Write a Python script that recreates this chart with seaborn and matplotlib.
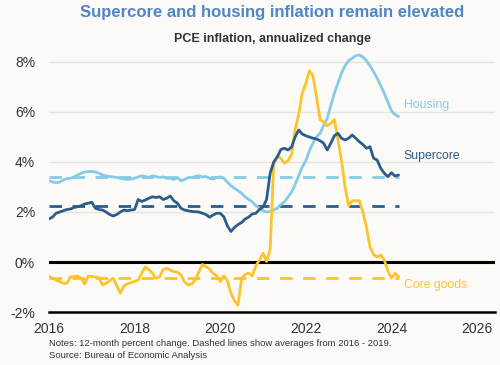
import numpy as np
import pandas as pd
import matplotlib.pyplot as plt
import seaborn as sns

# =====================================
# Data: monthly, Jan 2016 - Mar 2024 (12-month percent change)
# =====================================
housing = [
    3.25, 3.20, 3.17, 3.20, 3.28, 3.33, 3.35, 3.40, 3.48, 3.55, 3.60, 3.62,
    3.62, 3.60, 3.55, 3.48, 3.44, 3.42, 3.40, 3.38, 3.35, 3.32, 3.30, 3.32,
    3.35, 3.40, 3.45, 3.42, 3.38, 3.45, 3.42, 3.38, 3.40, 3.35, 3.35, 3.30,
    3.38, 3.25, 3.30, 3.38, 3.38, 3.42, 3.45, 3.40, 3.42, 3.35, 3.32, 3.38,
    3.40, 3.35, 3.20, 3.05, 2.95, 2.85, 2.75, 2.60, 2.50, 2.40, 2.25, 2.15,
    2.05, 2.00, 2.02, 2.08, 2.15, 2.30, 2.40, 2.60, 2.80, 3.10, 3.45, 3.80,
    4.05, 4.45, 4.75, 5.00, 5.15, 5.45, 5.75, 6.25, 6.75, 7.15, 7.55, 7.85,
    8.05, 8.15, 8.25, 8.28, 8.20, 8.05, 7.85, 7.60, 7.35, 7.05, 6.75, 6.40,
    6.05, 5.90, 5.82,
]

supercore = [
    1.72, 1.80, 1.95, 2.00, 2.05, 2.10, 2.12, 2.18, 2.21, 2.25, 2.32, 2.35,
    2.39, 2.15, 2.10, 2.08, 2.00, 1.90, 1.84, 1.90, 2.00, 2.08, 2.05, 2.08,
    2.10, 2.50, 2.42, 2.48, 2.55, 2.61, 2.58, 2.61, 2.50, 2.55, 2.64, 2.45,
    2.35, 2.15, 2.08, 2.05, 2.02, 2.01, 2.00, 1.95, 1.90, 1.79, 1.88, 1.95,
    1.95, 1.81, 1.45, 1.22, 1.38, 1.50, 1.58, 1.72, 1.80, 1.92, 1.95, 2.10,
    2.20, 2.50, 3.55, 4.00, 4.20, 4.50, 4.55, 4.48, 4.60, 5.00, 5.28, 5.12,
    5.05, 5.00, 4.95, 4.92, 4.85, 4.75, 4.48, 4.75, 5.05, 5.15, 4.95, 4.88,
    4.95, 5.08, 4.95, 4.81, 4.70, 4.55, 4.61, 4.15, 4.08, 3.75, 3.55, 3.41,
    3.57, 3.44, 3.48,
]

core_goods = [
    -0.58, -0.65, -0.72, -0.78, -0.85, -0.85, -0.60, -0.58, -0.56, -0.65, -0.88, -0.56,
    -0.58, -0.60, -0.62, -0.92, -0.85, -0.75, -0.65, -0.95, -1.25, -0.95, -0.88, -0.82,
    -0.78, -0.72, -0.45, -0.20, -0.30, -0.45, -0.65, -0.60, -0.30, -0.25, -0.32, -0.38,
    -0.40, -0.52, -0.80, -0.92, -0.88, -0.72, -0.40, -0.10, -0.18, -0.28, -0.45, -0.55,
    -0.78, -0.55, -0.75, -1.25, -1.55, -1.72, -0.65, -0.50, -0.45, -0.55, -0.15, 0.08,
    0.35, 0.02, 0.50, 3.90, 4.25, 4.15, 3.95, 4.05, 4.30, 5.30, 5.90, 6.75,
    7.15, 7.65, 7.45, 6.60, 5.70, 5.60, 5.45, 5.55, 5.70, 4.90, 4.05, 3.00,
    2.25, 2.45, 2.45, 2.45, 2.00, 1.40, 0.60, 0.30, 0.20, 0.28, 0.08, -0.35,
    -0.65, -0.45, -0.58,
]

# 2016 - 2019 averages (dashed lines)
averages = [3.38, 2.24, -0.64]

series_names = ["Housing", "Supercore", "Core goods"]
colors = ["#86CBE6", "#2B5D8C", "#FBC42C"]
year_ticks = [2016, 2018, 2020, 2022, 2024, 2026]
pct_ticks = [-2, 0, 2, 4, 6, 8]

months = 2016 + np.arange(len(housing)) / 12

df = pd.DataFrame({
    "date": np.tile(months, 3),
    "value": housing + supercore + core_goods,
    "series": np.repeat(series_names, len(months)),
})

# =====================================
# Plot
# =====================================
sns.set_style("white")
plt.rcParams["font.family"] = ["Liberation Sans", "DejaVu Sans"]

bg = "#FBFAF7"
fig = plt.figure(figsize=(5, 3.65), dpi=100, facecolor=bg)
ax = fig.add_axes([0.098, 0.1452, 0.892, 0.7192])
ax.set_facecolor(bg)

for v in [2, 4, 6, 8]:
    ax.axhline(v, color="#E6E4E0", lw=1.0, zorder=0)

for avg, c in zip(averages, colors):
    ax.hlines(avg, months[0], months[-1], color=c, lw=2.0,
              linestyles=(0, (4.5, 3.8)), zorder=2)

ax.axhline(0, color="black", lw=2.2, zorder=1)

sns.lineplot(data=df, x="date", y="value", hue="series",
             palette=dict(zip(series_names, colors)),
             hue_order=["Housing", "Core goods", "Supercore"],
             lw=2.0, legend=False, ax=ax, zorder=3)

label_y = {"Housing": 6.28, "Supercore": 4.24, "Core goods": -0.92}
for name, c in zip(series_names, colors):
    ax.text(months[-1] + 0.12, label_y[name], name, color=c, fontsize=8.8,
            va="center", ha="left")

ax.set_xlim(2016, 2026.42)
ax.set_ylim(-2, 8.5)
ax.set_xticks(year_ticks)
ax.set_xticklabels([str(y) for y in year_ticks], fontsize=10, color="#333333")
ax.set_yticks(pct_ticks)
ax.set_yticklabels([f"{v}%" for v in pct_ticks], fontsize=10, color="#333333")
ax.tick_params(axis="x", length=4, width=0.8, color="#888888", pad=3)
ax.tick_params(axis="y", length=0, pad=10)
ax.set_xlabel("")
ax.set_ylabel("")

for side in ["top", "right", "left"]:
    ax.spines[side].set_visible(False)
ax.spines["bottom"].set_color("black")
ax.spines["bottom"].set_linewidth(1.8)

fig.text(0.544, 0.967, "Supercore and housing inflation remain elevated",
         ha="center", va="center", fontsize=12, fontweight="bold", color="#4F86C6")
fig.text(0.544, 0.894, "PCE inflation, annualized change",
         ha="center", va="center", fontsize=9, fontweight="bold", color="#333333")
fig.text(0.098, 0.06, "Notes: 12-month percent change. Dashed lines show averages from 2016 - 2019.",
         ha="left", va="center", fontsize=6.8, color="#333333")
fig.text(0.098, 0.027, "Source: Bureau of Economic Analysis",
         ha="left", va="center", fontsize=6.8, color="#333333")

plt.savefig("out.png", dpi=100, facecolor=bg)
plt.close()
